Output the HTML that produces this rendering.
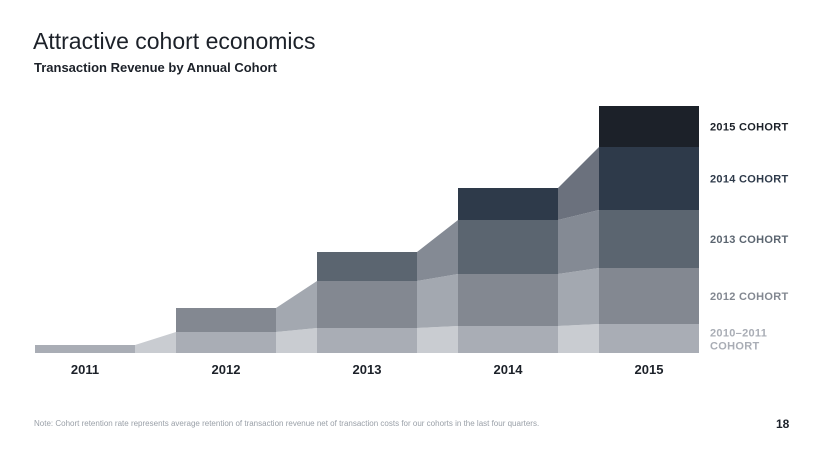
<!DOCTYPE html>
<html><head><meta charset="utf-8"><style>
body{margin:0;width:820px;height:461px;background:#fff;font-family:"Liberation Sans",sans-serif;overflow:hidden;position:relative}
.t{position:absolute;white-space:nowrap}
</style></head><body>
<div class="t" style="left:33px;top:28px;font-size:23px;color:#1c2129">Attractive cohort economics</div>
<div class="t" style="left:34px;top:60px;font-size:13px;font-weight:bold;color:#1c2129">Transaction Revenue by Annual Cohort</div>
<svg id="chart" width="820" height="461" style="position:absolute;left:0;top:0"></svg>
<div class="t" style="left:34px;top:419px;font-size:8px;color:#9aa0a8">Note: Cohort retention rate represents average retention of transaction revenue net of transaction costs for our cohorts in the last four quarters.</div>
<div class="t" style="left:776px;top:417px;font-size:12px;font-weight:bold;color:#1c2129">18</div>
<script>
const years=["2011","2012","2013","2014","2015"];
const cohort0=[8,21,25,27,29];
const cohort1=[null,24,47,52,56];
const cohort2=[null,null,29,54,58];
const cohort3=[null,null,null,32,63];
const cohort4=[null,null,null,null,41];
const cohortLabels=["2010–2011","2012 COHORT","2013 COHORT","2014 COHORT","2015 COHORT"];
const series=[cohort0,cohort1,cohort2,cohort3,cohort4];
const barCol=["#a9adb5","#838891","#5b6570","#2e3a4a","#1c2129"];
const conCol=["#c9ccd1","#a3a8b0","#848a94","#6b717d"];
const base=353,scale=1,x0=35,bw=100,step=141;
const xL=i=>x0+i*step, y=v=>base-v*scale;
const svg=document.getElementById('chart');const NS="http://www.w3.org/2000/svg";
function mk(tag,a){const e=document.createElementNS(NS,tag);for(const k in a)e.setAttribute(k,a[k]);svg.appendChild(e);return e;}
function cum(i,k){let s=0;for(let j=0;j<=k;j++)s+=series[j][i]||0;return s;}
// connectors
for(let i=0;i<years.length-1;i++){for(let k=0;k<series.length;k++){if(series[k][i]==null)continue;
const xa=xL(i)+bw,xb=xL(i+1);const la=k?cum(i,k-1):0,lb=k?cum(i+1,k-1):0;const ta=cum(i,k),tb=cum(i+1,k);
const p=mk('polygon',{points:`${xa},${y(la)} ${xa},${y(ta)} ${xb},${y(tb)} ${xb},${y(lb)}`,fill:conCol[k]});

}}
// bars
for(let i=0;i<years.length;i++){for(let k=0;k<series.length;k++){const v=series[k][i];if(v==null)continue;
const lo=k?cum(i,k-1):0;const r=mk('rect',{x:xL(i),y:y(lo+v),width:bw,height:v*scale,fill:barCol[k]});

}
const t=mk('text',{x:xL(i)+bw/2,y:374,'text-anchor':'middle','font-size':13,'font-weight':'bold',fill:'#1c2129'});t.textContent=years[i];

}
// labels
const last=years.length-1;
for(let k=0;k<series.length;k++){const lo=k?cum(last,k-1):0,hi=cum(last,k);const cy=(y(lo)+y(hi))/2;
const t=mk('text',{x:710,y:cy+4,'font-size':11,'font-weight':'bold',fill:barCol[k],'letter-spacing':'0.3'});
if(k==0){t.setAttribute('y',cy-2);const a=document.createElementNS(NS,'tspan');a.textContent=cohortLabels[0];t.appendChild(a);
const b=document.createElementNS(NS,'tspan');b.setAttribute('x',710);b.setAttribute('dy',13);b.textContent='COHORT';t.appendChild(b);}
else t.textContent=cohortLabels[k];

}
</script>
</body></html>
